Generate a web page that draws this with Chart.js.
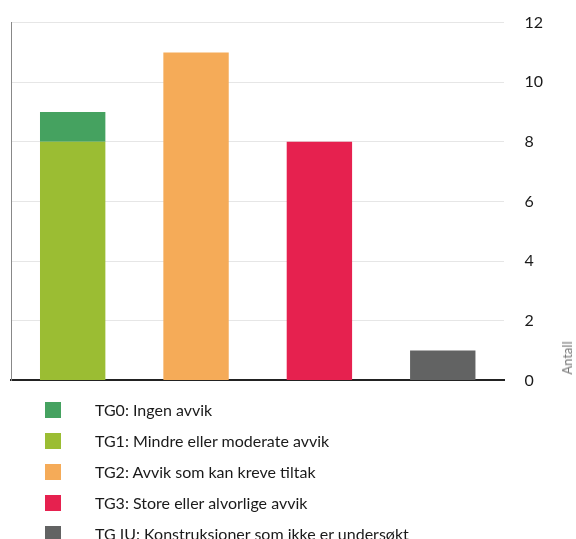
<!DOCTYPE html>
<html>
<head>
<meta charset="utf-8">
<script src="https://cdn.jsdelivr.net/npm/chart.js@4"></script>
<style>
  body { margin: 0; background: #fff; font-family: Lato, "Open Sans", sans-serif; }
  #wrap { position: relative; width: 576px; height: 539px; overflow: hidden; }
  #chart { position: absolute; left: 0; top: -7px; }
  #legend { position: absolute; left: 45px; top: 394px; }
  .item { height: 31px; display: flex; align-items: center; font-size: 16px; color: #1a1a1a; }
  .box { width: 16px; height: 16px; margin-right: 34px; }
  #ytitle { position: absolute; left: 567px; top: 358px; font-size: 13px; color: #777;
            transform: translate(-50%, -50%) rotate(-90deg); white-space: nowrap; }
</style>
</head>
<body>
<div id="wrap">
  <canvas id="chart" width="576" height="417"></canvas>
  <div id="ytitle">Antall</div>
  <div id="legend"></div>
</div>
<script>
// Data
var categories = ["TG0/TG1", "TG2", "TG3", "TG IU"];
var tg0 = [1, null, null, null];
var tg1 = [8, null, null, null];
var tg2 = [null, 11, null, null];
var tg3 = [null, null, 8, null];
var tgiu = [null, null, null, 1];
var yTicks = [0, 2, 4, 6, 8, 10, 12];

var seriesNames = [
  "TG0: Ingen avvik",
  "TG1: Mindre eller moderate avvik",
  "TG2: Avvik som kan kreve tiltak",
  "TG3: Store eller alvorlige avvik",
  "TG IU: Konstruksjoner som ikke er undersøkt"
];
var seriesColors = ["#45a260", "#9bbd33", "#f5ab58", "#e6214f", "#626363"];
var seriesData = [tg0, tg1, tg2, tg3, tgiu];

// TG1 sits under TG0 in the first bar, so draw order differs from legend order
var stackOrder = [1, 0, 2, 3, 4];

var datasets = seriesNames.map(function(name, i) {
  return {
    label: name,
    data: seriesData[i],
    backgroundColor: seriesColors[i],
    order: stackOrder[i],
    barPercentage: 0.53,
    categoryPercentage: 1.0,
    stack: "s"
  };
});

var ctx = document.getElementById("chart").getContext("2d");
var myChart = new Chart(ctx, {
  type: "bar",
  data: { labels: categories, datasets: datasets },
  options: {
    responsive: false,
    animation: false,
    layout: { padding: { top: 7, left: 11, right: 13, bottom: 0 } },
    plugins: { legend: { display: false }, tooltip: { enabled: false } },
    scales: {
      x: {
        stacked: true,
        ticks: { display: false },
        grid: { display: false },
        border: { color: "#222", width: 2 }
      },
      y: {
        position: "right",
        stacked: true,
        min: 0,
        max: 12,
        afterBuildTicks: function(axis) {
          axis.ticks = yTicks.map(function(v) { return { value: v }; });
        },
        ticks: { color: "#1a1a1a", padding: 20, font: { family: "Lato", size: 16 } },
        grid: { color: "#e6e6e6", drawTicks: false },
        border: { display: false }
      },
      yLeft: {
        position: "left",
        min: 0,
        max: 12,
        ticks: { display: false },
        grid: { display: false, drawTicks: false },
        border: { color: "#888", width: 1 }
      }
    }
  }
});

// HTML legend, built from the chart datasets
var legend = document.getElementById("legend");
myChart.data.datasets.forEach(function(ds) {
  var row = document.createElement("div");
  row.className = "item";
  var box = document.createElement("span");
  box.className = "box";
  box.style.background = ds.backgroundColor;
  row.appendChild(box);
  row.appendChild(document.createTextNode(ds.label));
  legend.appendChild(row);
});
</script>
</body>
</html>
